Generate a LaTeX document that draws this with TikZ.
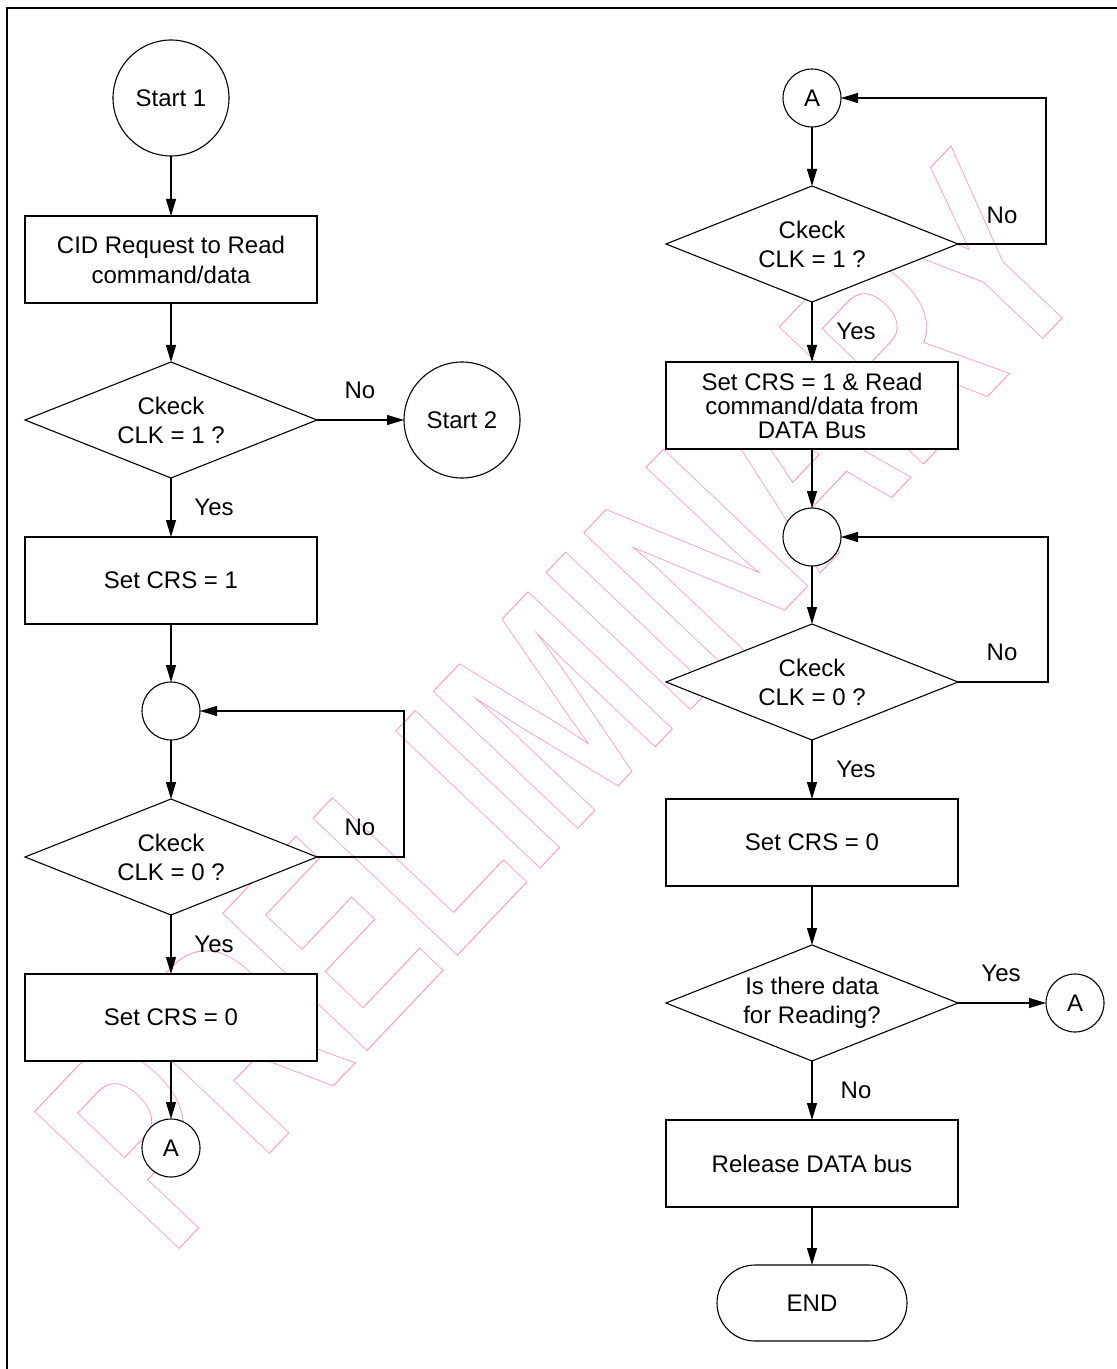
\documentclass[tikz,border=0pt]{standalone}
\usepackage{fontspec}
\setmainfont{Liberation Sans}
\usetikzlibrary{shapes.geometric,arrows.meta}
\definecolor{wm}{RGB}{255,153,204}
\begin{document}
\begin{tikzpicture}[x=0.5pt,y=-0.5pt,
  every node/.style={font=\fontsize{12}{14.5}\selectfont, inner sep=0pt, outer sep=0pt},
  ln/.style={line width=0.55pt},
  arr/.style={ln,-{Triangle[length=8.5pt,width=5pt]}},
  boxn/.style={draw,ln,fill=white,rectangle,minimum width=146pt,minimum height=43.5pt,align=center},
  decn/.style={draw,ln,fill=white,diamond,aspect=2.52,minimum width=146pt,minimum height=58pt,align=center},
  bigc/.style={draw,ln,fill=white,circle,minimum size=58pt},
  smc/.style={draw,ln,fill=white,circle,minimum size=29pt},
  termn/.style={draw,ln,fill=white,rectangle,rounded corners=19pt,minimum width=95pt,minimum height=38pt}]
\useasboundingbox (0,0) rectangle (1117,1369);
% watermark
\node[anchor=base west, rotate=46.5, text=wm, font=\fontsize{144.6}{150}\selectfont\bfseries] (wmk) at (170,1258)
  {\special{pdf:literal direct 1 Tr 0.5 w 1 0.6 0.8 RG}\scalebox{0.68}[1]{PRELIMINARY}\special{pdf:literal direct 0 Tr}};
% frame
\draw[line width=1.1pt] (7,1369) -- (7,8) -- (1117,8);
% left column
\node[bigc] (start1) at (171,98) {Start 1};
\node[boxn,font=\fontsize{12}{15}\selectfont] (cid) at (171,259.5) {CID Request to Read\\command/data};
\node[decn] (d1) at (171,420) {Ckeck\\CLK = 1 ?};
\node[bigc] (start2) at (462,420) {Start 2};
\node[boxn] (set1) at (171,580.5) {Set CRS = 1};
\node[smc] (j1) at (171,711) {};
\node[decn] (d2) at (171,857) {Ckeck\\CLK = 0 ?};
\node[boxn] (set0) at (171,1017.5) {Set CRS = 0};
\node[smc] (a1) at (171,1148) {A};
% right column
\node[smc] (a2) at (812,98) {A};
\node[decn] (d3) at (812,244) {Ckeck\\CLK = 1 ?};
\node[boxn,font=\fontsize{12}{12}\selectfont] (rd) at (812,405.5) {Set CRS = 1 \& Read\\command/data from\\DATA Bus};
\node[smc] (j2) at (812,537) {};
\node[decn] (d4) at (812,682) {Ckeck\\CLK = 0 ?};
\node[boxn] (s0r) at (812,842.5) {Set CRS = 0};
\node[decn] (d5) at (812,1003) {Is there data\\for Reading?};
\node[smc] (a3) at (1075,1003) {A};
\node[boxn] (rel) at (812,1163.5) {Release DATA bus};
\node[termn] (end) at (812,1303) {END};
% labels
\node (l1) at (360,390) {No};
\node (l2) at (214,507) {Yes};
\node (l3) at (360,827) {No};
\node (l4) at (214,944) {Yes};
\node (l5) at (1002,215) {No};
\node (l6) at (856,331) {Yes};
\node (l7) at (1002,652) {No};
\node (l8) at (856,769) {Yes};
\node (l9) at (1001,973) {Yes};
\node (l10) at (856,1090) {No};
% connectors left
\draw[arr] (start1) -- (cid);
\draw[arr] (cid) -- (d1);
\draw[arr] (d1) -- (start2);
\draw[arr] (d1) -- (set1);
\draw[arr] (set1) -- (j1);
\draw[arr] (j1) -- (d2);
\draw[arr] (d2.east) -- ++(87,0) |- (j1.east);
\draw[arr] (d2) -- (set0);
\draw[arr] (set0) -- (a1);
% connectors right
\draw[arr] (a2) -- (d3);
\draw[arr] (d3.east) -- ++(88,0) |- (a2.east);
\draw[arr] (d3) -- (rd);
\draw[arr] (rd) -- (j2);
\draw[arr] (j2) -- (d4);
\draw[arr] (d4.east) -- ++(90,0) |- (j2.east);
\draw[arr] (d4) -- (s0r);
\draw[arr] (s0r) -- (d5);
\draw[arr] (d5) -- (a3);
\draw[arr] (d5) -- (rel);
\draw[arr] (rel) -- (end);
\end{tikzpicture}
\end{document}
